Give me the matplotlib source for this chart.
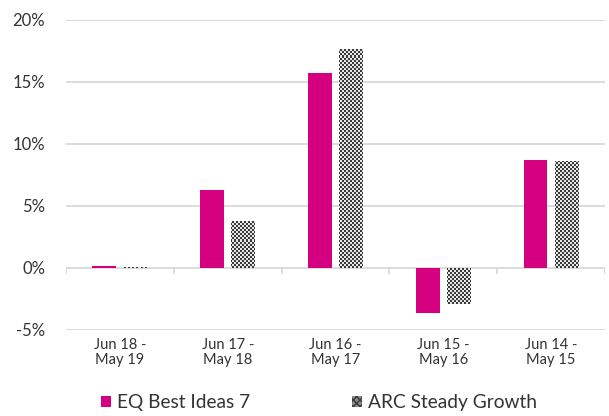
import numpy as np
import matplotlib
matplotlib.use("Agg")
import matplotlib.pyplot as plt
from matplotlib.patches import Patch

plt.rcParams['font.family'] = ['Lato', 'DejaVu Sans']
plt.rcParams['font.weight'] = 'normal'

periods = ['Jun 18 -\nMay 19', 'Jun 17 -\nMay 18', 'Jun 16 -\nMay 17',
           'Jun 15 -\nMay 16', 'Jun 14 -\nMay 15']
eq_best_ideas = [0.2, 6.3, 15.7, -3.6, 8.7]
arc_steady = [0.05, 3.8, 17.7, -2.9, 8.6]
y_ticks = [-5, 0, 5, 10, 15, 20]

MAGENTA = '#d4007f'
TEXT = '#333333'
GRID = '#d9d9d9'

fig = plt.figure(figsize=(6.09, 4.16), dpi=100)
ax = fig.add_axes([66 / 609, 86 / 416, 539 / 609, 310 / 416])

x = np.arange(len(periods))
width = 0.22
ax.set_xlim(-0.5, len(periods) - 0.5)
ax.set_ylim(y_ticks[0], y_ticks[-1])

ax.bar(x - 0.145, eq_best_ideas, width, color=MAGENTA, zorder=3)
arc_bars = ax.bar(x + 0.145, arc_steady, width, color='none', zorder=3)

# checkerboard fill for the ARC bars, built at screen resolution
w_px, h_px = 539, 310
yy, xx = np.mgrid[0:h_px, 0:w_px]
checker = ((xx // 2 + yy // 2) % 2).astype(float)
for bar in arc_bars:
    im = ax.imshow(checker, cmap=matplotlib.colors.ListedColormap(['#3a3a3a', '#e8e8e8']),
                   extent=(-0.5, len(periods) - 0.5, y_ticks[0], y_ticks[-1]),
                   origin='lower', interpolation='nearest', aspect='auto', zorder=3)
    im.set_clip_path(bar)

ax.set_yticks(y_ticks)
ax.set_yticklabels([f'{t}%' for t in y_ticks])
ax.yaxis.grid(True, color=GRID, linewidth=1.3, zorder=0)
ax.set_xticks(x)
ax.set_xticklabels(periods, fontsize=10.5, color=TEXT, linespacing=1.05)
ax.tick_params(axis='x', length=0, pad=6)
ax.tick_params(axis='y', length=0, pad=15, labelsize=12, labelcolor=TEXT)
for s in ax.spines.values():
    s.set_visible(False)

# small separators hanging below the zero line between periods
ax.vlines(np.arange(len(periods) + 1) - 0.5, 0, -0.45, color=GRID, linewidth=1.3, zorder=2)

handles = [Patch(facecolor=MAGENTA, edgecolor='none', label='EQ Best Ideas 7'),
           Patch(facecolor='#8a8a8a', edgecolor='#3a3a3a', hatch='xxxxx', linewidth=0,
                 label='ARC Steady Growth')]
fig.legend(handles=handles, loc='center', bbox_to_anchor=(0.524, 0.032), ncol=2,
           frameon=False, fontsize=13.8, handlelength=0.5, handleheight=0.5,
           handletextpad=0.35, columnspacing=5.3, labelcolor=TEXT)

fig.savefig('out.png', dpi=100)
